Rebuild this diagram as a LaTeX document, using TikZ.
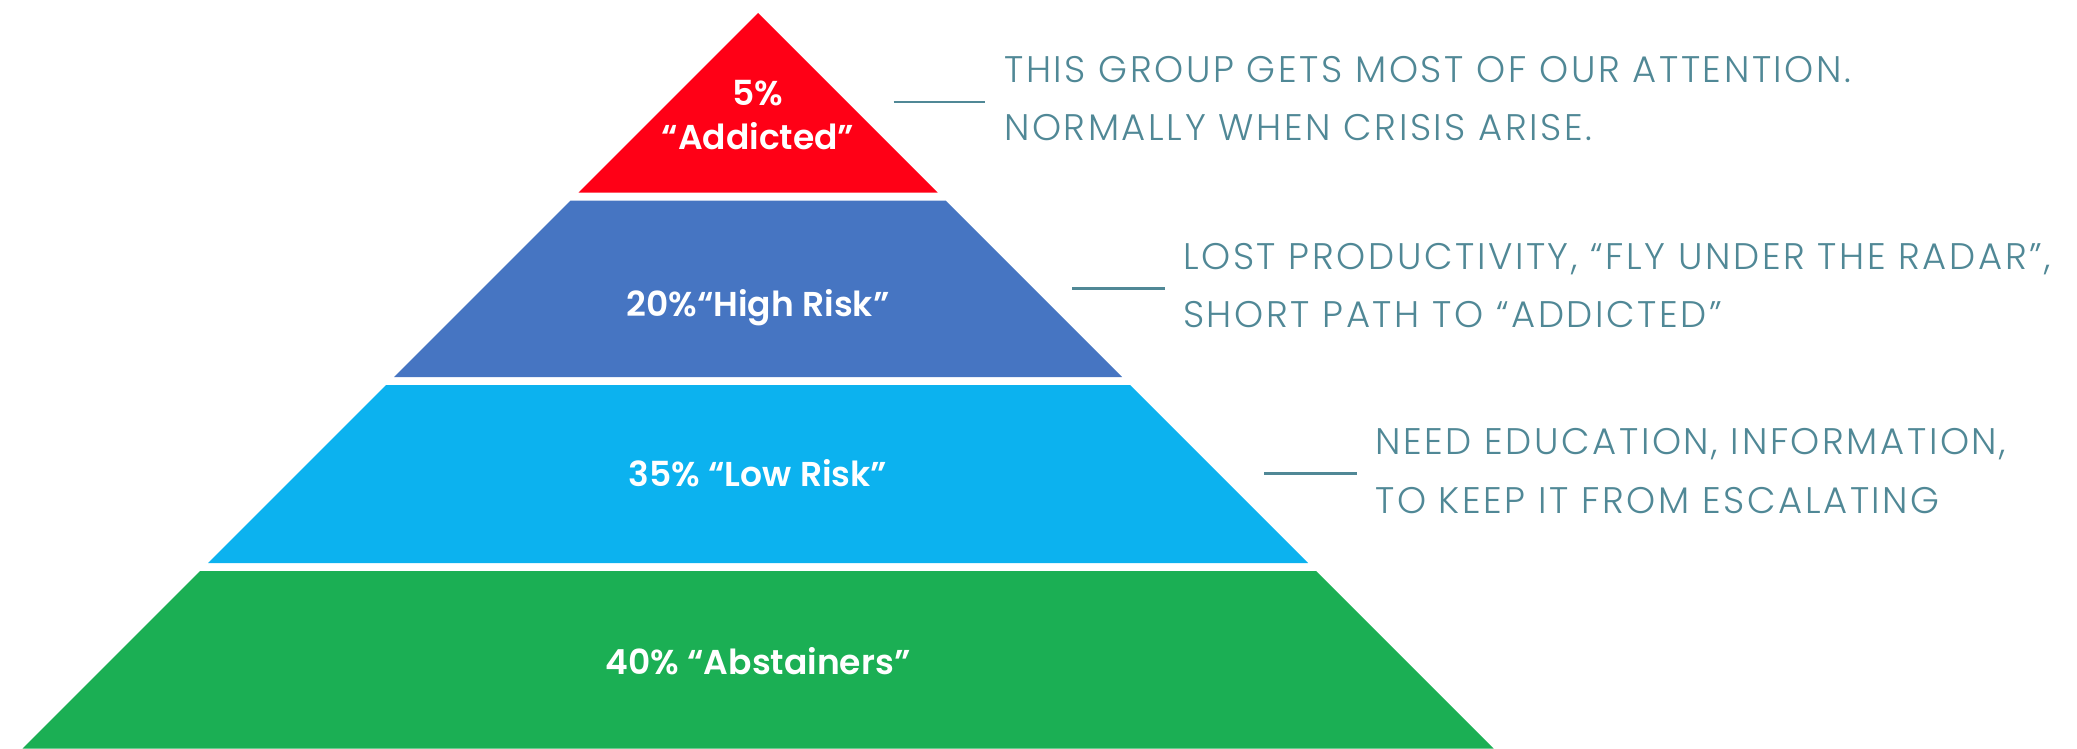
\documentclass[tikz,border=0pt]{standalone}
\usepackage{fontspec}
\setmainfont{Poppins}
\newfontfamily\bandfont{Poppins SemiBold}
\newfontfamily\notefont{Poppins Light}[LetterSpace=7]
\definecolor{bandred}{RGB}{255,0,22}
\definecolor{bandblue}{RGB}{70,117,194}
\definecolor{bandsky}{RGB}{12,178,239}
\definecolor{bandgreen}{RGB}{27,175,84}
\definecolor{noteteal}{RGB}{80,136,150}
\tikzset{
  bandlabel/.style={anchor=base, inner sep=0pt, text=white,
    font=\bandfont\fontsize{34.5}{42}\selectfont},
  noteline/.style={anchor=base west, inner sep=0pt, text=noteteal,
    font=\notefont\fontsize{37}{44}\selectfont},
  leader/.style={draw=noteteal, line width=2.5pt}
}
% one band of the 45-degree pyramid, apex at (758,13), between depths #2 and #3
\newcommand\pyrband[3]{%
  \fill[#1] ({758-(#2-13)},#2) -- ({758+(#2-13)},#2) --
    ({758+(#3-13)},#3) -- ({758-(#3-13)},#3) -- cycle;}
\begin{document}
\begin{tikzpicture}[x=1pt,y=-1pt]
\useasboundingbox (0,0) rectangle (2077,749);
% pyramid bands
\pyrband{bandred}{13}{192.5}
\pyrband{bandblue}{200.5}{377}
\pyrband{bandsky}{385}{563}
\pyrband{bandgreen}{571}{748.5}
% band labels
\node[bandlabel] (pct5) at (758,106) {5\%};
\node[bandlabel] (addicted) at (758,149.3) {“Addicted”};
\node[bandlabel] (highrisk) at (758,316) {20\%“High Risk”};
\node[bandlabel] (lowrisk) at (758,486.7) {35\% “Low Risk”};
\node[bandlabel] (abstainers) at (758,674) {40\% “Abstainers”};
% notes
\node[noteline] (n1a) at (1004,82.3) {THIS GROUP GETS MOST OF OUR ATTENTION.};
\node[noteline] (n1b) at (1004,141) {NORMALLY WHEN CRISIS ARISE.};
\node[noteline] (n2a) at (1183,269.3) {LOST PRODUCTIVITY, “FLY UNDER THE RADAR”,};
\node[noteline] (n2b) at (1183,327.7) {SHORT PATH TO “ADDICTED”};
\node[noteline] (n3a) at (1375,454) {NEED EDUCATION, INFORMATION,};
\node[noteline] (n3b) at (1375,513.3) {TO KEEP IT FROM ESCALATING};
% leader dashes
\coordinate (d1a) at (893.7,102);   \coordinate (d1b) at (985.3,102);
\coordinate (d2a) at (1072,288.7);  \coordinate (d2b) at (1164.7,288.7);
\coordinate (d3a) at (1264,473.3);  \coordinate (d3b) at (1357,473.3);
\draw[leader] (d1a) -- (d1b);
\draw[leader] (d2a) -- (d2b);
\draw[leader] (d3a) -- (d3b);
\end{tikzpicture}
\end{document}
